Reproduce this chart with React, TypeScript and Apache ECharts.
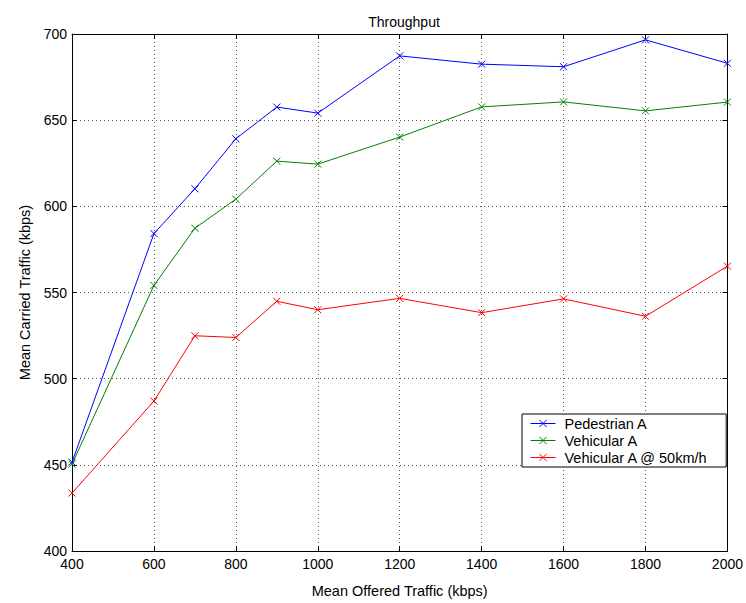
import React, { useEffect, useRef } from "react";
import * as echarts from "echarts";

const xValues = [400, 600, 700, 800, 900, 1000, 1200, 1400, 1600, 1800, 2000];
const pedestrianA = [451.5, 584.2, 610.2, 639.2, 657.6, 654.1, 687.3, 682.5, 681.0, 696.6, 683.0];
const vehicularA = [450.4, 554.1, 587.3, 604.2, 626.2, 624.5, 640.2, 657.7, 660.6, 655.4, 660.5];
const vehicularA50 = [433.6, 487.0, 524.9, 523.9, 544.9, 540.0, 546.6, 538.3, 546.3, 536.2, 565.3];
const seriesNames = ["Pedestrian A", "Vehicular A", "Vehicular A @ 50km/h"];
const seriesColors = ["#0000ff", "#008000", "#ff0000"];

const FONT = "Liberation Sans";
const X_SYMBOL = "path://M0,0L10,10M10,0L0,10";

export default function App() {
  const ref = useRef<HTMLDivElement>(null);
  useEffect(() => {
    if (!ref.current) return;
    const chart = echarts.init(ref.current, null, { renderer: "svg" });
    const data = [pedestrianA, vehicularA, vehicularA50];
    const axisLine = { show: true, lineStyle: { color: "#000", width: 1 } };
    const tick = { show: true, inside: true, length: 5, lineStyle: { color: "#000" } };
    const split = { show: true, lineStyle: { color: "#555", type: [1, 3] as any, width: 1 } };
    const fmt = (v: number) => String(v);
    chart.setOption({
      animation: false,
      textStyle: { fontFamily: FONT },
      title: {
        text: "Throughput",
        left: 399,
        top: 10,
        textAlign: "center",
        textStyle: { fontFamily: FONT, fontSize: 14, fontWeight: "normal", color: "#000" },
      },
      grid: { left: 72, right: 15, top: 34, bottom: 51, containLabel: false },
      legend: {
        orient: "vertical",
        left: 522,
        top: 414,
        data: seriesNames,
        backgroundColor: "#fff",
        borderColor: "#000",
        borderWidth: 1,
        borderRadius: 0,
        padding: [2, 18, 2, 8],
        itemGap: 2,
        itemWidth: 25,
        itemHeight: 9,
        itemStyle: { borderWidth: 1 },
        lineStyle: { width: 1 },
        textStyle: { fontFamily: FONT, fontSize: 14.5, color: "#000", padding: [0, 0, 0, 4] },
      },
      xAxis: [
        {
          type: "value",
          min: 400,
          max: 2000,
          interval: 200,
          name: "Mean Offered Traffic (kbps)",
          nameLocation: "middle",
          nameGap: 32,
          nameTextStyle: { fontFamily: FONT, fontSize: 14.5, color: "#000" },
          axisLine,
          axisTick: tick,
          axisLabel: { fontFamily: FONT, fontSize: 14, color: "#000", margin: 6, formatter: fmt },
          splitLine: split,
        },
        {
          type: "value",
          position: "top",
          min: 400,
          max: 2000,
          interval: 200,
          axisLine,
          axisTick: tick,
          axisLabel: { show: false },
          splitLine: { show: false },
        },
      ],
      yAxis: [
        {
          type: "value",
          min: 400,
          max: 700,
          interval: 50,
          name: "Mean Carried Traffic (kbps)",
          nameLocation: "middle",
          nameGap: 37,
          nameTextStyle: { fontFamily: FONT, fontSize: 14.5, color: "#000" },
          axisLine,
          axisTick: tick,
          axisLabel: { fontFamily: FONT, fontSize: 14, color: "#000", margin: 5, formatter: fmt },
          splitLine: split,
        },
        {
          type: "value",
          position: "right",
          min: 400,
          max: 700,
          interval: 50,
          axisLine,
          axisTick: tick,
          axisLabel: { show: false },
          splitLine: { show: false },
        },
      ],
      series: seriesNames.map((name, i) => ({
        name,
        type: "line",
        xAxisIndex: 0,
        yAxisIndex: 0,
        data: xValues.map((x, j) => [x, data[i][j]]),
        symbol: X_SYMBOL,
        symbolSize: 7,
        showSymbol: true,
        lineStyle: { color: seriesColors[i], width: 1 },
        itemStyle: { color: seriesColors[i], borderColor: seriesColors[i], borderWidth: 1 },
        emphasis: { disabled: true },
      })),
    });
    return () => chart.dispose();
  }, []);
  return (
    <div
      ref={ref}
      style={{ position: "fixed", left: 0, top: 0, width: 746, height: 603, background: "#fff" }}
    />
  );
}
